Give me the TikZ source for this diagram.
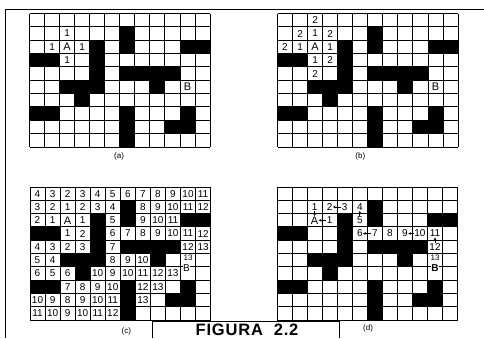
\documentclass[tikz,border=0pt]{standalone}
\usepackage{fontspec}
\setmainfont{Liberation Sans}
\setsansfont{Liberation Sans}
\usetikzlibrary{arrows.meta}
\tikzset{
  gridline/.style={line width=1pt},
  framerule/.style={line width=0.9pt},
  blockcell/.style={fill=black},
  cellnum/.style={inner sep=0pt, font=\sffamily\fontsize{10}{10}\selectfont},
  endpin/.style={inner sep=0pt, font=\sffamily\fontsize{11}{11}\selectfont},
  smallnum/.style={inner sep=0pt, font=\sffamily\fontsize{8}{8}\selectfont},
  sublabel/.style={inner sep=0pt, font=\sffamily\fontsize{8}{8}\selectfont},
  figlabel/.style={inner sep=0pt, anchor=base, font=\sffamily\bfseries\fontsize{16.5}{16.5}\selectfont\addfontfeature{LetterSpace=5}},
  tracearrow/.style={-{Stealth[length=2.6pt,width=2.8pt]}, line width=0.75pt, shorten <=0.4pt, shorten >=0.4pt}
}

% blocked cells, column/row counted from the top left
\newcommand{\obstacles}{6/1,4/2,6/2,10/2,11/2,0/3,1/3,4/3,4/4,6/4,7/4,8/4,9/4,2/5,3/5,4/5,8/5,3/6,0/7,1/7,6/7,10/7,6/8,9/8,10/8,6/9}
\newcommand{\mazegrid}{%
  \foreach \cx/\ry in \obstacles {\fill[blockcell] (\cx,\ry) rectangle ++(1,1);}
  \foreach \cx in {0,...,12} {\draw[gridline] (\cx,0) -- (\cx,10);}
  \foreach \ry in {0,...,10} {\draw[gridline] (0,\ry) -- (12,\ry);}
}

\begin{document}
\begin{tikzpicture}[x=1pt,y=-1pt]
\useasboundingbox (0,0) rectangle (484,338);
\draw[framerule] (5,338) -- (5,9.5) -- (484,9.5);

% (a)
\begin{scope}[shift={(29.5,13.5)}, x=15.05pt, y=-13.35pt]
\mazegrid
\node[cellnum] (a-2-1) at (2.5,1.5) {1};
\node[cellnum] (a-1-2) at (1.5,2.5) {1};
\node[endpin] (a-A) at (2.5,2.5) {A};
\node[cellnum] (a-3-2) at (3.5,2.5) {1};
\node[cellnum] (a-2-3) at (2.5,3.5) {1};
\node[endpin] (a-B) at (10.5,5.5) {B};
\node[sublabel] (a-tag) at (5.95,10.7) {(a)};
\end{scope}

% (b)
\begin{scope}[shift={(277.5,13.5)}, x=15.05pt, y=-13.35pt]
\mazegrid
\node[cellnum] (b-2-0) at (2.5,0.5) {2};
\node[cellnum] (b-1-1) at (1.5,1.5) {2};
\node[cellnum] (b-2-1) at (2.5,1.5) {1};
\node[cellnum] (b-3-1) at (3.5,1.5) {2};
\node[cellnum] (b-0-2) at (0.5,2.5) {2};
\node[cellnum] (b-1-2) at (1.5,2.5) {1};
\node[endpin] (b-A) at (2.5,2.5) {A};
\node[cellnum] (b-3-2) at (3.5,2.5) {1};
\node[cellnum] (b-2-3) at (2.5,3.5) {1};
\node[cellnum] (b-3-3) at (3.5,3.5) {2};
\node[cellnum] (b-2-4) at (2.5,4.5) {2};
\node[endpin] (b-B) at (10.5,5.5) {B};
\node[sublabel] (b-tag) at (5.5,10.7) {(b)};
\end{scope}

% (c)
\begin{scope}[shift={(30,187)}, x=15.05pt, y=-13.3pt]
\mazegrid
\foreach \cx/\t in {0/4,1/3,2/2,3/3,4/4,5/5,6/6,7/7,8/8,9/9,10/10,11/11}
  \node[cellnum] (c-\cx-0) at (\cx+.5,0.5) {\t};
\foreach \cx/\t in {0/3,1/2,2/1,3/2,4/3,5/4,7/8,8/9,9/10,10/11,11/12}
  \node[cellnum] (c-\cx-1) at (\cx+.5,1.5) {\t};
\foreach \cx/\t in {0/2,1/1,3/1,5/5,7/9,8/10,9/11}
  \node[cellnum] (c-\cx-2) at (\cx+.5,2.5) {\t};
\foreach \cx/\t in {2/1,3/2,5/6,6/7,7/8,8/9,9/10,10/11,11/12}
  \node[cellnum] (c-\cx-3) at (\cx+.5,3.5) {\t};
\foreach \cx/\t in {0/4,1/3,2/2,3/3,5/7,10/12,11/13}
  \node[cellnum] (c-\cx-4) at (\cx+.5,4.5) {\t};
\foreach \cx/\t in {0/5,1/4,5/8,6/9,7/10}
  \node[cellnum] (c-\cx-5) at (\cx+.5,5.5) {\t};
\foreach \cx/\t in {0/6,1/5,2/6,4/10,5/9,6/10,7/11,8/12,9/13}
  \node[cellnum] (c-\cx-6) at (\cx+.5,6.5) {\t};
\foreach \cx/\t in {2/7,3/8,4/9,5/10,7/12,8/13}
  \node[cellnum] (c-\cx-7) at (\cx+.5,7.5) {\t};
\foreach \cx/\t in {0/10,1/9,2/8,3/9,4/10,5/11,7/13}
  \node[cellnum] (c-\cx-8) at (\cx+.5,8.5) {\t};
\foreach \cx/\t in {0/11,1/10,2/9,3/10,4/11,5/12}
  \node[cellnum] (c-\cx-9) at (\cx+.5,9.5) {\t};
\node[endpin] (c-A) at (2.5,2.5) {A};
\node[smallnum] (c-10-5) at (10.5,5.3) {13};
\node[endpin, fill=white, inner sep=0.3pt, font=\sffamily\fontsize{10}{10}\selectfont] (c-B) at (10.4,6.08) {B};
\node[sublabel] (c-tag) at (6.4,10.85) {(c)};
\end{scope}

% (d)
\begin{scope}[shift={(277,187)}, x=15.05pt, y=-13.3pt]
\mazegrid
\node[cellnum] (d-2-1) at (2.5,1.5) {1};
\node[cellnum] (d-3-1) at (3.5,1.5) {2};
\node[cellnum] (d-4-1) at (4.5,1.5) {3};
\node[cellnum] (d-5-1) at (5.5,1.5) {4};
\node[endpin] (d-A) at (2.5,2.5) {A};
\node[cellnum] (d-3-2) at (3.5,2.5) {1};
\node[cellnum] (d-5-2) at (5.5,2.5) {5};
\foreach \cx/\t in {5/6,6/7,7/8,8/9,9/10,10/11}
  \node[cellnum] (d-\cx-3) at (\cx+.5,3.5) {\t};
\node[cellnum] (d-10-4) at (10.5,4.5) {12};
\node[smallnum] (d-10-5) at (10.5,5.3) {13};
\node[endpin, fill=white, inner sep=0.3pt, font=\sffamily\bfseries\fontsize{10}{10}\selectfont] (d-B) at (10.5,6.08) {B};
\draw[tracearrow] (d-4-1) -- (d-3-1);
\draw[tracearrow] (d-2-1) -- (d-A);
\draw[tracearrow] (d-3-2) -- (d-A);
\draw[tracearrow] (d-5-2) -- (d-5-1);
\draw[tracearrow] (d-6-3) -- (d-5-3);
\draw[tracearrow] (d-9-3) -- (d-8-3);
\draw[tracearrow] (d-10-4) -- (d-10-3);
\node[sublabel] (d-tag) at (6.05,10.6) {(d)};
\end{scope}

% caption box
\draw[framerule] (152.5,338) -- (152.5,321.5) -- (339,321.5) -- (339,338);
\node[figlabel] (caption) at (247,335.5) {FIGURA\ \ 2.2};
\end{tikzpicture}
\end{document}
